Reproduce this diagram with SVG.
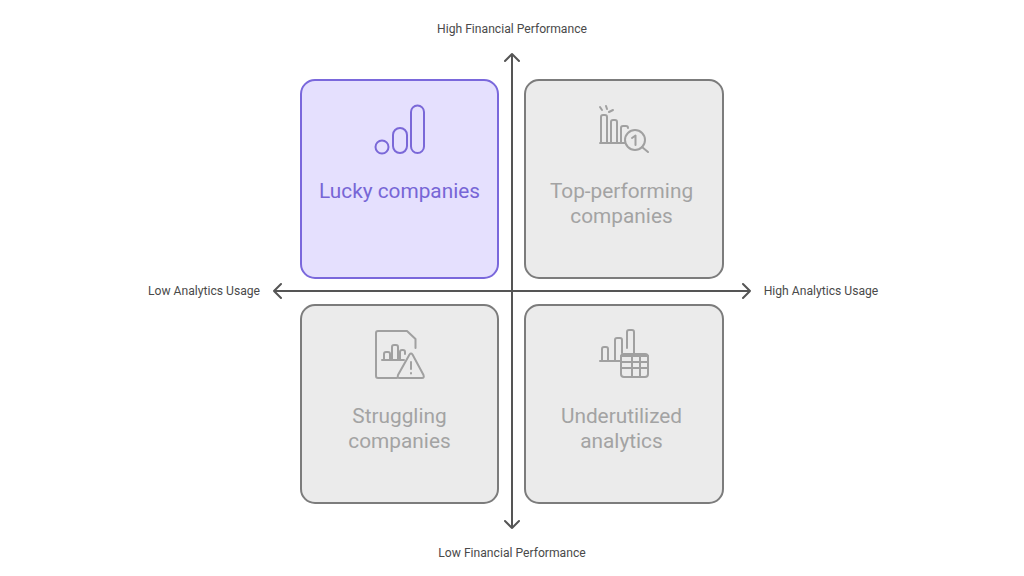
<svg xmlns="http://www.w3.org/2000/svg" width="1024" height="576" viewBox="0 0 1024 576">
<style>
text{font-family:Roboto,"Liberation Sans",sans-serif;text-anchor:middle}
.ax{font-size:12.15px;fill:#4a4a4a}
.t{font-size:20.800px;fill:#a3a3a3}
.tp{font-size:20.800px;fill:#7766d6}
.box{fill:#ebebeb;stroke:#7c7c7c;stroke-width:2}
.boxp{fill:#e5e0fe;stroke:#7a68dc;stroke-width:2}
.ic{fill:none;stroke:#a0a0a0;stroke-width:2;stroke-linecap:round;stroke-linejoin:round}
.icp{fill:none;stroke:#7a68d8;stroke-width:2}
.axl{fill:none;stroke:#555;stroke-width:2;stroke-linecap:round;stroke-linejoin:round}
</style>
<rect width="1024" height="576" fill="#fff"/>
<g id="connectors">
<path class="axl" d="M512 54V528M505 61L512 54L519 61M505 521L512 528L519 521"/>
<path class="axl" d="M274 291H750M281 284L274 291L281 298M743 284L750 291L743 298"/>
</g>
<g id="lucky">
<rect class="boxp" x="301" y="80" width="197" height="198" rx="14"/>
<circle class="icp" cx="382" cy="147" r="6.500"/>
<rect class="icp" x="393" y="128" width="14" height="25" rx="7"/>
<rect class="icp" x="411" y="105.500" width="13" height="47.500" rx="6.500"/>
<text class="tp" x="399.500" y="198">Lucky companies</text>
</g>
<g id="top-performing">
<rect class="box" x="525" y="80" width="198" height="198" rx="14"/>
<path class="ic" d="M601 143V117Q601 115 603 115H605Q607 115 607 117V143M611 143V122Q611 120 613 120H615Q617 120 617 122V143M600 143H625M621 143V128Q621 126 623 126H626Q628 126 628 128"/>
<path class="ic" d="M600 107L602 110M606 106L607 109M609 112L613 110"/>
<circle class="ic" cx="635" cy="140" r="10"/>
<path class="ic" d="M642 147L648 152M632 138L635.500 135.500V145"/>
<text class="t" x="621.500" y="198">Top-performing</text>
<text class="t" x="621.500" y="223">companies</text>
</g>
<g id="struggling">
<rect class="box" x="301" y="305" width="197" height="198" rx="14"/>
<path class="ic" d="M397 378H378Q376 378 376 376V333Q376 331 378 331H407L415.500 339V348"/>
<path class="ic" d="M382 360H404M384 360V354Q384 352 386 352H388Q390 352 390 354V360M392 360V347Q392 345 394 345H396Q398 345 398 347V360M400 360V352Q400 350 402 350H403Q405 350 405 352V354"/>
<path class="ic" d="M409.500 354.500Q411 352.500 412.500 354.500L423.500 375Q424.500 378 422 378H399.500Q397 378 398 375Z"/>
<path class="ic" d="M411 362V369M411 373V373.500"/>
<text class="t" x="399.500" y="423">Struggling</text>
<text class="t" x="399.500" y="448">companies</text>
</g>
<g id="underutilized">
<rect class="box" x="525" y="305" width="198" height="198" rx="14"/>
<path class="ic" d="M600 361H620M602 361V349Q602 347 604 347H606Q608 347 608 349V361M615 361V340Q615 338 617 338H620Q622 338 622 340V353M627 348V332Q627 330 629 330H632Q634 330 634 332V353"/>
<rect class="ic" x="621" y="354" width="27" height="23" rx="3"/>
<path class="ic" d="M621 356H648M621 362H648M621 368H648M632 356V377M640 356V377"/>
<text class="t" x="621.500" y="423">Underutilized</text>
<text class="t" x="621.500" y="448">analytics</text>
</g>
<g id="labels">
<text class="ax" x="512" y="33">High Financial Performance</text>
<text class="ax" x="512" y="557">Low Financial Performance</text>
<text class="ax" x="204" y="295">Low Analytics Usage</text>
<text class="ax" x="821" y="295">High Analytics Usage</text>
</g>
</svg>
